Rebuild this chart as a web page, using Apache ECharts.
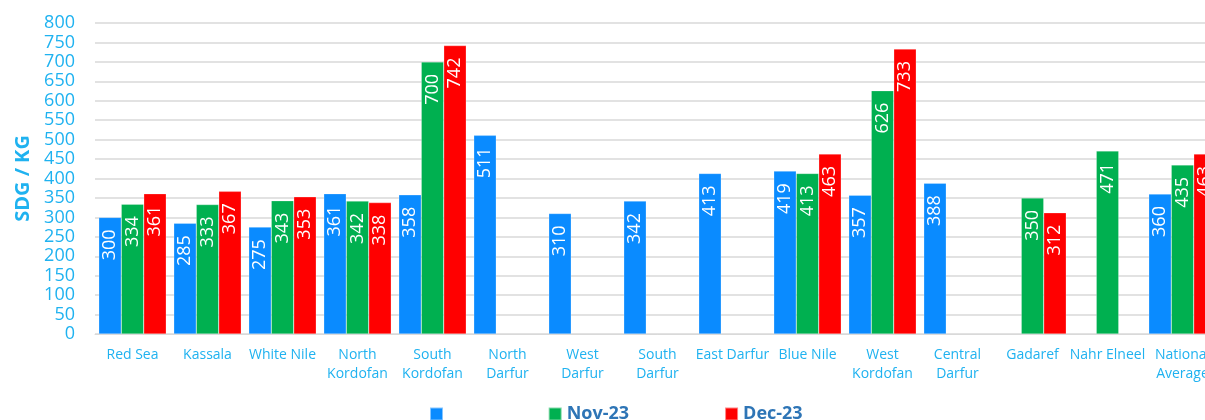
<!DOCTYPE html>
<html>
<head>
<meta charset="utf-8">
<script src="https://cdn.jsdelivr.net/npm/echarts@6/dist/echarts.min.js"></script>
<style>
  html, body { margin: 0; padding: 0; background: #fff; overflow: hidden; }
  /* wider than the window: the original picture is cut on the right */
  #main { width: 1240px; height: 420px; }
</style>
</head>
<body>
<div id="main"></div>
<script>
  // states (x axis)
  var states = ['Red Sea', 'Kassala', 'White Nile', 'North\nKordofan', 'South\nKordofan',
    'North\nDarfur', 'West\nDarfur', 'South\nDarfur', 'East Darfur', 'Blue Nile',
    'West\nKordofan', 'Central\nDarfur', 'Gadaref', 'Nahr Elneel', 'National\nAverage'];

  // price SDG/KG, null = no data
  var oct23 = [300, 285, 275, 361, 358, 511, 310, 342, 413, 419, 357, 388, null, null, 360];
  var nov23 = [334, 333, 343, 342, 700, null, null, null, null, 413, 626, null, 350, 471, 435];
  var dec23 = [361, 367, 353, 338, 742, null, null, null, null, 463, 733, null, 312, null, 463];

  var textBlue = '#1fb2f0';
  var font = '"Open Sans", "Noto Sans", sans-serif';

  var chart = echarts.init(document.getElementById('main'));

  // label inside the top of each bar, reading bottom to top
  function barLabel() {
    return {
      show: true,
      position: 'insideTop',
      rotate: 90,
      align: 'right',
      verticalAlign: 'middle',
      distance: 12,
      color: '#fff',
      fontSize: 18,
      fontFamily: font
    };
  }

  function makeSeries(name, data, color) {
    return {
      name: name,
      type: 'bar',
      data: data,
      barWidth: '30%',
      barGap: '0%',
      itemStyle: { color: color, borderColor: 'rgba(255,255,255,0.5)', borderWidth: 0.5 },
      label: barLabel()
    };
  }

  chart.setOption({
    animation: false,
    grid: { left: 95, width: 1125, top: 23, bottom: 86 },
    legend: {
      left: 424,
      top: 400,
      itemWidth: 13,
      itemHeight: 13,
      itemGap: 95,
      icon: 'rect',
      data: ['Oct-23', 'Nov-23', 'Dec-23'],
      // first series has no visible name in the original legend
      formatter: function (n) { return n === 'Oct-23' ? ' ' : n; },
      textStyle: { color: '#2e75b6', fontSize: 18, fontWeight: 'bold', fontFamily: font }
    },
    xAxis: {
      type: 'category',
      data: states,
      axisTick: { show: false },
      axisLine: { lineStyle: { color: '#d9d9d9', width: 1 } },
      axisLabel: {
        color: textBlue, fontSize: 14, fontFamily: font, lineHeight: 19, margin: 12, interval: 0
      }
    },
    yAxis: {
      type: 'value',
      min: 0,
      max: 800,
      interval: 50,
      name: 'SDG / KG',
      nameLocation: 'middle',
      nameGap: 59,
      nameTextStyle: { color: textBlue, fontSize: 20, fontWeight: 'bold', fontFamily: font },
      axisLine: { show: false },
      axisTick: { show: false },
      splitLine: { lineStyle: { color: '#d9d9d9', width: 1.5 } },
      axisLabel: { color: textBlue, fontSize: 18, fontFamily: font, margin: 20 }
    },
    series: [
      makeSeries('Oct-23', oct23, '#0a8bff'),
      makeSeries('Nov-23', nov23, '#00b050'),
      makeSeries('Dec-23', dec23, '#ff0000')
    ]
  });
</script>
</body>
</html>
